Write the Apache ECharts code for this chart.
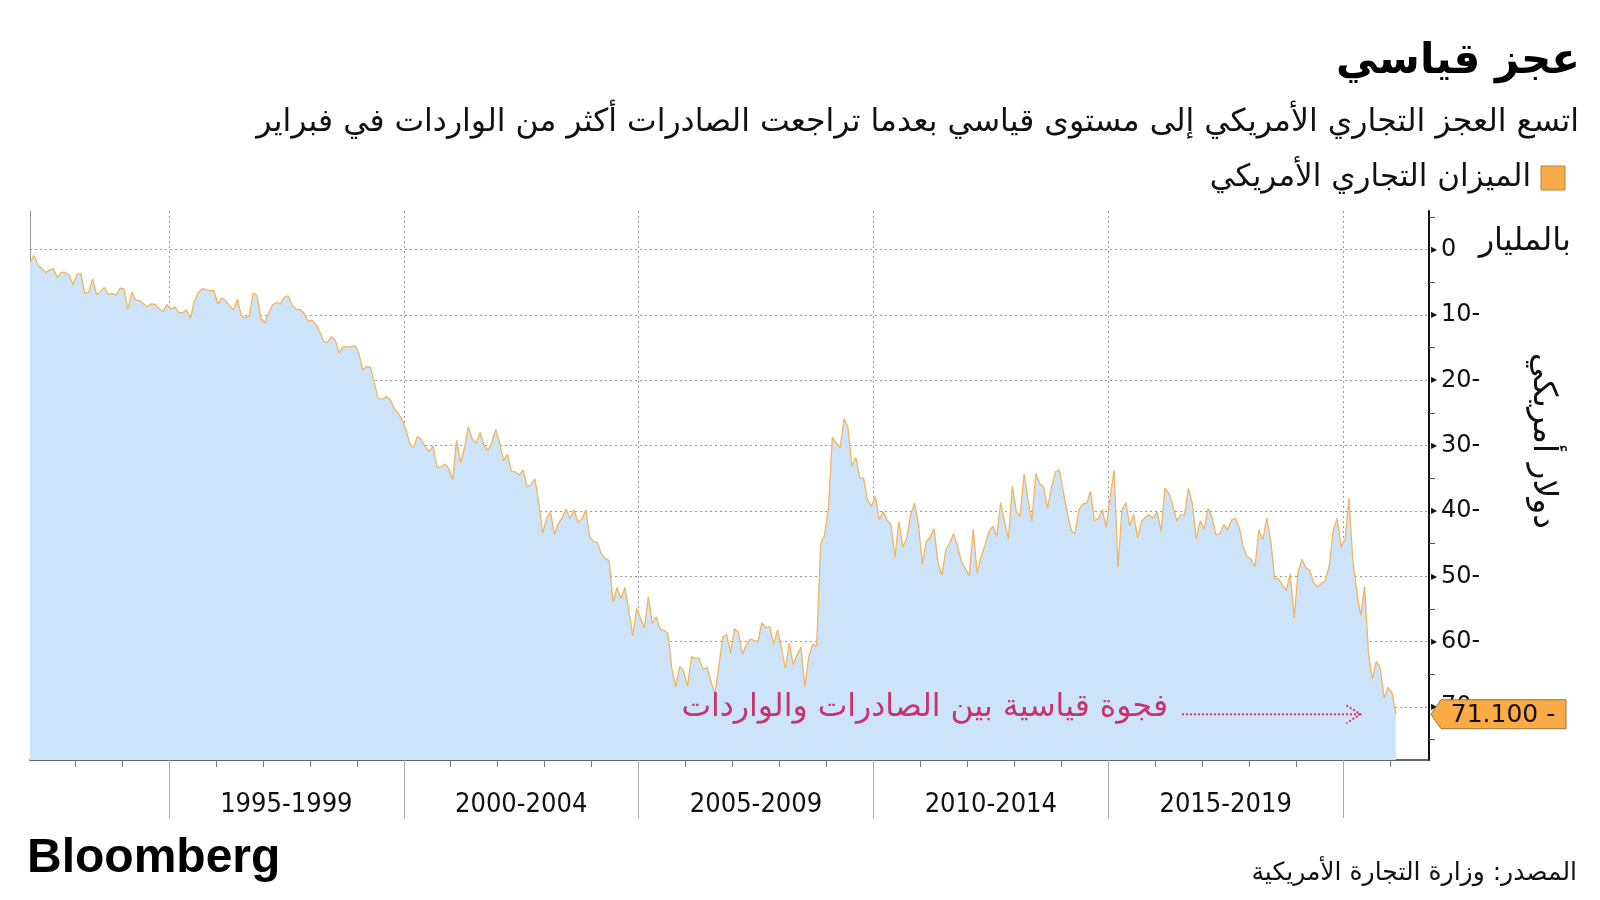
<!DOCTYPE html>
<html><head><meta charset="utf-8">
<script src="https://cdn.jsdelivr.net/npm/echarts@6/dist/echarts.min.js"></script>
<style>html,body{margin:0;padding:0;background:#fff}#c{width:1600px;height:900px}</style>
</head><body><div id="c"></div>
<script>
// Monthly US trade balance, billions of dollars, Jan 1992 .. Feb 2021
const startYear = 1992;
const balance = [
  -2.0,-0.9,-2.3,-2.9,-3.5,-3.1,-2.9,-4.3,-3.5,-3.5,-3.9,-5.4,
  -3.8,-3.7,-6.7,-6.5,-4.5,-6.9,-6.4,-5.8,-6.9,-6.7,-7.0,-5.9,
  -6.0,-9.2,-6.5,-7.7,-7.8,-8.3,-8.7,-8.3,-8.4,-9.0,-9.5,-8.4,
  -9.1,-8.8,-9.6,-9.7,-9.2,-10.5,-7.9,-6.6,-6.0,-6.1,-6.3,-6.3,
  -8.3,-7.4,-7.8,-8.6,-9.2,-7.6,-10.2,-10.4,-10.2,-6.7,-7.0,-10.5,
  -11.2,-9.7,-8.4,-8.1,-8.3,-7.3,-7.1,-8.5,-9.1,-9.2,-9.7,-11.0,
  -10.8,-11.4,-12.5,-14.0,-14.2,-13.3,-13.9,-15.8,-14.9,-14.9,-14.9,-14.7,
  -15.8,-18.4,-17.9,-18.0,-20.5,-22.8,-22.9,-22.5,-22.9,-24.3,-25.0,-25.9,
  -27.4,-29.6,-30.3,-28.6,-29.1,-30.2,-30.9,-30.0,-33.3,-33.3,-32.8,-33.5,
  -35.2,-29.2,-32.6,-30.4,-27.1,-29.0,-29.6,-28.0,-30.0,-30.7,-29.6,-27.5,
  -29.6,-32.3,-31.3,-33.9,-34.0,-34.5,-33.7,-36.3,-36.0,-35.1,-38.8,-43.4,
  -41.1,-40.2,-43.6,-41.9,-41.0,-39.7,-41.1,-39.8,-41.7,-41.3,-39.8,-43.9,
  -44.7,-44.8,-46.6,-47.3,-47.6,-53.9,-51.7,-53.4,-51.7,-55.2,-59.1,-54.9,
  -56.4,-57.9,-53.1,-57.2,-56.2,-58.1,-58.3,-58.7,-64.1,-66.9,-63.8,-64.5,
  -66.8,-62.3,-62.5,-62.6,-64.3,-63.9,-66.1,-67.9,-63.8,-59.3,-58.9,-61.8,
  -58.0,-58.5,-61.9,-60.5,-59.6,-59.8,-60.0,-57.1,-57.9,-57.7,-60.4,-58.2,
  -61.0,-64.1,-60.3,-63.5,-62.0,-60.8,-66.9,-62.3,-60.4,-60.7,-45.0,-43.7,
  -39.6,-28.7,-29.6,-30.3,-25.9,-27.2,-33.1,-31.8,-34.9,-35.0,-38.3,-39.3,
  -37.8,-41.3,-40.1,-41.4,-42.1,-47.1,-41.6,-45.5,-44.2,-40.6,-38.8,-41.9,
  -48.1,-44.7,-44.0,-42.7,-47.9,-49.8,-45.9,-44.9,-43.5,-45.4,-47.8,-48.8,
  -49.9,-42.8,-49.5,-47.0,-45.3,-43.2,-42.3,-43.9,-38.7,-41.6,-44.2,-36.2,
  -40.1,-40.8,-34.3,-38.3,-41.5,-34.3,-35.8,-36.4,-39.6,-36.3,-34.0,-33.7,
  -37.0,-40.1,-42.9,-43.5,-39.8,-38.9,-38.8,-37.0,-41.5,-41.1,-39.8,-42.5,
  -37.8,-33.8,-48.6,-39.8,-38.7,-42.3,-40.5,-44.1,-41.6,-40.9,-40.6,-41.1,
  -40.1,-43.1,-36.5,-37.3,-39.1,-41.5,-40.6,-40.6,-36.5,-38.9,-44.3,-41.5,
  -42.8,-39.6,-40.9,-43.6,-43.5,-42.1,-42.8,-41.4,-41.1,-42.6,-45.5,-47.0,
  -47.4,-48.5,-42.9,-44.4,-41.1,-44.4,-50.3,-50.4,-51.3,-52.2,-49.6,-56.4,
  -49.4,-47.4,-48.7,-49.1,-51.0,-51.6,-51.1,-50.6,-48.3,-42.9,-41.1,-45.5,
  -44.4,-38.1,-47.5,-52.3,-56.0,-51.6,-61.8,-65.7,-63.0,-64.1,-68.6,-67.0,
  -67.8,-71.1
];
const yearTicks = [1993,1994,1995,1996,1997,1998,1999,2000,2001,2002,2003,2004,2005,2006,2007,2008,2009,2010,2011,2012,2013,2014,2015,2016,2017,2018,2019,2020,2021];
const periodTicks = [1995,2000,2005,2010,2015,2020];
const periodLabels = ['1995-1999','2000-2004','2005-2009','2010-2014','2015-2019'];
const valueTicks = [0,-10,-20,-30,-40,-50,-60,-70];
const minorValueTicks = [5,-5,-15,-25,-35,-45,-55,-65,-75];

const titleText = 'عجز قياسي';
const subtitleText = 'اتسع العجز التجاري الأمريكي إلى مستوى قياسي بعدما تراجعت الصادرات أكثر من الواردات في فبراير';
const legendText = 'الميزان التجاري الأمريكي';
const unitText = 'بالمليار';
const unitText2 = 'دولار أمريكي';
const noteText = 'فجوة قياسية بين الصادرات والواردات';
const sourceText = 'المصدر: وزارة التجارة الأمريكية';

const xMin = startYear + 0.5/12;
const xMax = 2021.83;
const yMin = -78.1, yMax = 5.9;
const periodCenters = periodLabels.map((_, i) => (periodTicks[i] + periodTicks[i+1]) / 2);
const seriesData = balance.map((v, i) => [startYear + (i + 0.5) / 12, v]);

const AR = '"DejaVu Sans", sans-serif';
const NUM = '"DejaVu Sans Condensed", "DejaVu Sans", sans-serif';

const chart = echarts.init(document.getElementById('c'), null, {renderer: 'canvas'});
const option = {
  animation: false,
  backgroundColor: '#fff',
  grid: {left: 30, right: 171, top: 211, bottom: 140, containLabel: false},
  xAxis: [{
    type: 'value', min: xMin, max: xMax,
    axisLine: {show: true, onZero: false, lineStyle: {color: '#333', width: 1.5}},
    axisTick: {show: true, customValues: yearTicks, length: 7, lineStyle: {color: '#777'}},
    axisLabel: {show: false},
    splitLine: {show: false}
  }, {
    type: 'value', min: xMin, max: xMax, position: 'bottom',
    axisLine: {show: false, onZero: false},
    axisTick: {show: true, customValues: periodTicks, length: 58, lineStyle: {color: '#aaa', width: 1}},
    axisLabel: {
      show: true, customValues: periodCenters, margin: 31,
      formatter: v => { const i = periodCenters.indexOf(v); return i >= 0 ? periodLabels[i] : ''; },
      fontFamily: NUM, fontSize: 27, color: '#111'
    },
    splitLine: {show: true, lineStyle: {color: '#999', type: [2, 3], width: 1}}
  }],
  yAxis: [{
    type: 'value', min: yMin, max: yMax, position: 'right',
    axisLine: {show: true, onZero: false, lineStyle: {color: '#111', width: 2}},
    axisTick: {show: true, customValues: minorValueTicks, length: 6, inside: false, lineStyle: {color: '#555'}},
    axisLabel: {show: false},
    splitLine: {show: false}
  }, {
    type: 'value', min: yMin, max: yMax, position: 'right',
    axisLine: {show: false, onZero: false},
    axisTick: {show: false, customValues: valueTicks},
    axisLabel: {
      show: true, customValues: valueTicks, margin: 2,
      formatter: v => '{t|▶}{n|' + (v === 0 ? '0' : (-v) + '-') + '}',
      rich: {
        t: {fontSize: 8, color: '#111', padding: [0, 4, 0, 0], verticalAlign: 'middle'},
        n: {fontSize: 24, color: '#111', fontFamily: AR, verticalAlign: 'middle'}
      }
    },
    splitLine: {show: true, lineStyle: {color: '#999', type: [2, 3], width: 1}}
  }, {
    type: 'value', min: yMin, max: yMax, position: 'left',
    axisLine: {show: true, onZero: false, lineStyle: {color: '#999', width: 1}},
    axisTick: {show: false}, axisLabel: {show: false}, splitLine: {show: false}
  }],
  series: [{
    type: 'line', xAxisIndex: 0, yAxisIndex: 0,
    data: seriesData, showSymbol: false, symbol: 'none',
    lineStyle: {color: '#f2b55c', width: 1.3},
    areaStyle: {color: '#cce3fa', opacity: 1, origin: 'start'},
    z: 3
  }]
};
chart.setOption(option);

const last = balance[balance.length - 1];
const yLast = chart.convertToPixel({yAxisIndex: 0}, last);
const xAxisRight = chart.convertToPixel({xAxisIndex: 0}, xMax);
const arrowX0 = chart.convertToPixel({xAxisIndex: 0}, 2016.57);
const arrowX1 = chart.convertToPixel({xAxisIndex: 0}, 2020.37);
const accent = '#c7336c';
const bx = xAxisRight + 2;

chart.setOption({
  graphic: [
    {type: 'text', x: 1580, y: 62, style: {text: titleText, align: 'right', verticalAlign: 'middle', font: 'bold 42px ' + AR, fill: '#000'}},
    {type: 'text', x: 1579, y: 123, style: {text: subtitleText, align: 'right', verticalAlign: 'middle', font: '31.5px ' + AR, fill: '#111'}},
    {type: 'rect', shape: {x: 1541, y: 166, width: 24, height: 24}, style: {fill: '#f9ab48', stroke: '#b98433', lineWidth: 1}},
    {type: 'text', x: 1531, y: 178, style: {text: legendText, align: 'right', verticalAlign: 'middle', font: '31px ' + AR, fill: '#111'}},
    {type: 'text', x: 1571, y: 242, style: {text: unitText, align: 'right', verticalAlign: 'middle', font: '32px ' + AR, fill: '#111'}},
    {type: 'text', x: 1543, y: 441, rotation: -Math.PI / 2, style: {text: unitText2, align: 'center', verticalAlign: 'middle', font: '33px ' + AR, fill: '#111'}},
    {type: 'text', x: arrowX0 - 14, y: yLast - 6, z: 10, style: {text: noteText, align: 'right', verticalAlign: 'middle', font: '31.5px ' + AR, fill: accent}},
    {type: 'line', z: 10, shape: {x1: arrowX0, y1: yLast, x2: arrowX1, y2: yLast}, style: {stroke: '#e0306a', lineWidth: 2, lineDash: [2, 2]}},
    {type: 'polyline', z: 10, shape: {points: [[arrowX1 - 14, yLast - 9], [arrowX1, yLast], [arrowX1 - 14, yLast + 9]]}, style: {stroke: '#e0306a', lineWidth: 2, lineDash: [2, 2], fill: null}},
    {type: 'polygon', z: 100, zlevel: 1, shape: {points: [[bx, yLast], [bx + 10, yLast - 14.5], [bx + 135, yLast - 14.5], [bx + 135, yLast + 14.5], [bx + 10, yLast + 14.5]]}, style: {fill: '#fbab45', stroke: '#9a7235', lineWidth: 1}},
    {type: 'text', z: 101, zlevel: 1, x: bx + 72, y: yLast + 1, style: {text: (-last).toFixed(3) + ' -', align: 'center', verticalAlign: 'middle', font: '25px ' + AR, fill: '#111'}},
    {type: 'text', x: 27, y: 859, style: {text: 'Bloomberg', align: 'left', verticalAlign: 'middle', font: 'bold 48px "Liberation Sans", Arial, sans-serif', fill: '#000'}},
    {type: 'text', x: 1577, y: 873, style: {text: sourceText, align: 'right', verticalAlign: 'middle', font: '25px ' + AR, fill: '#111'}}
  ]
});
</script>
</body></html>
